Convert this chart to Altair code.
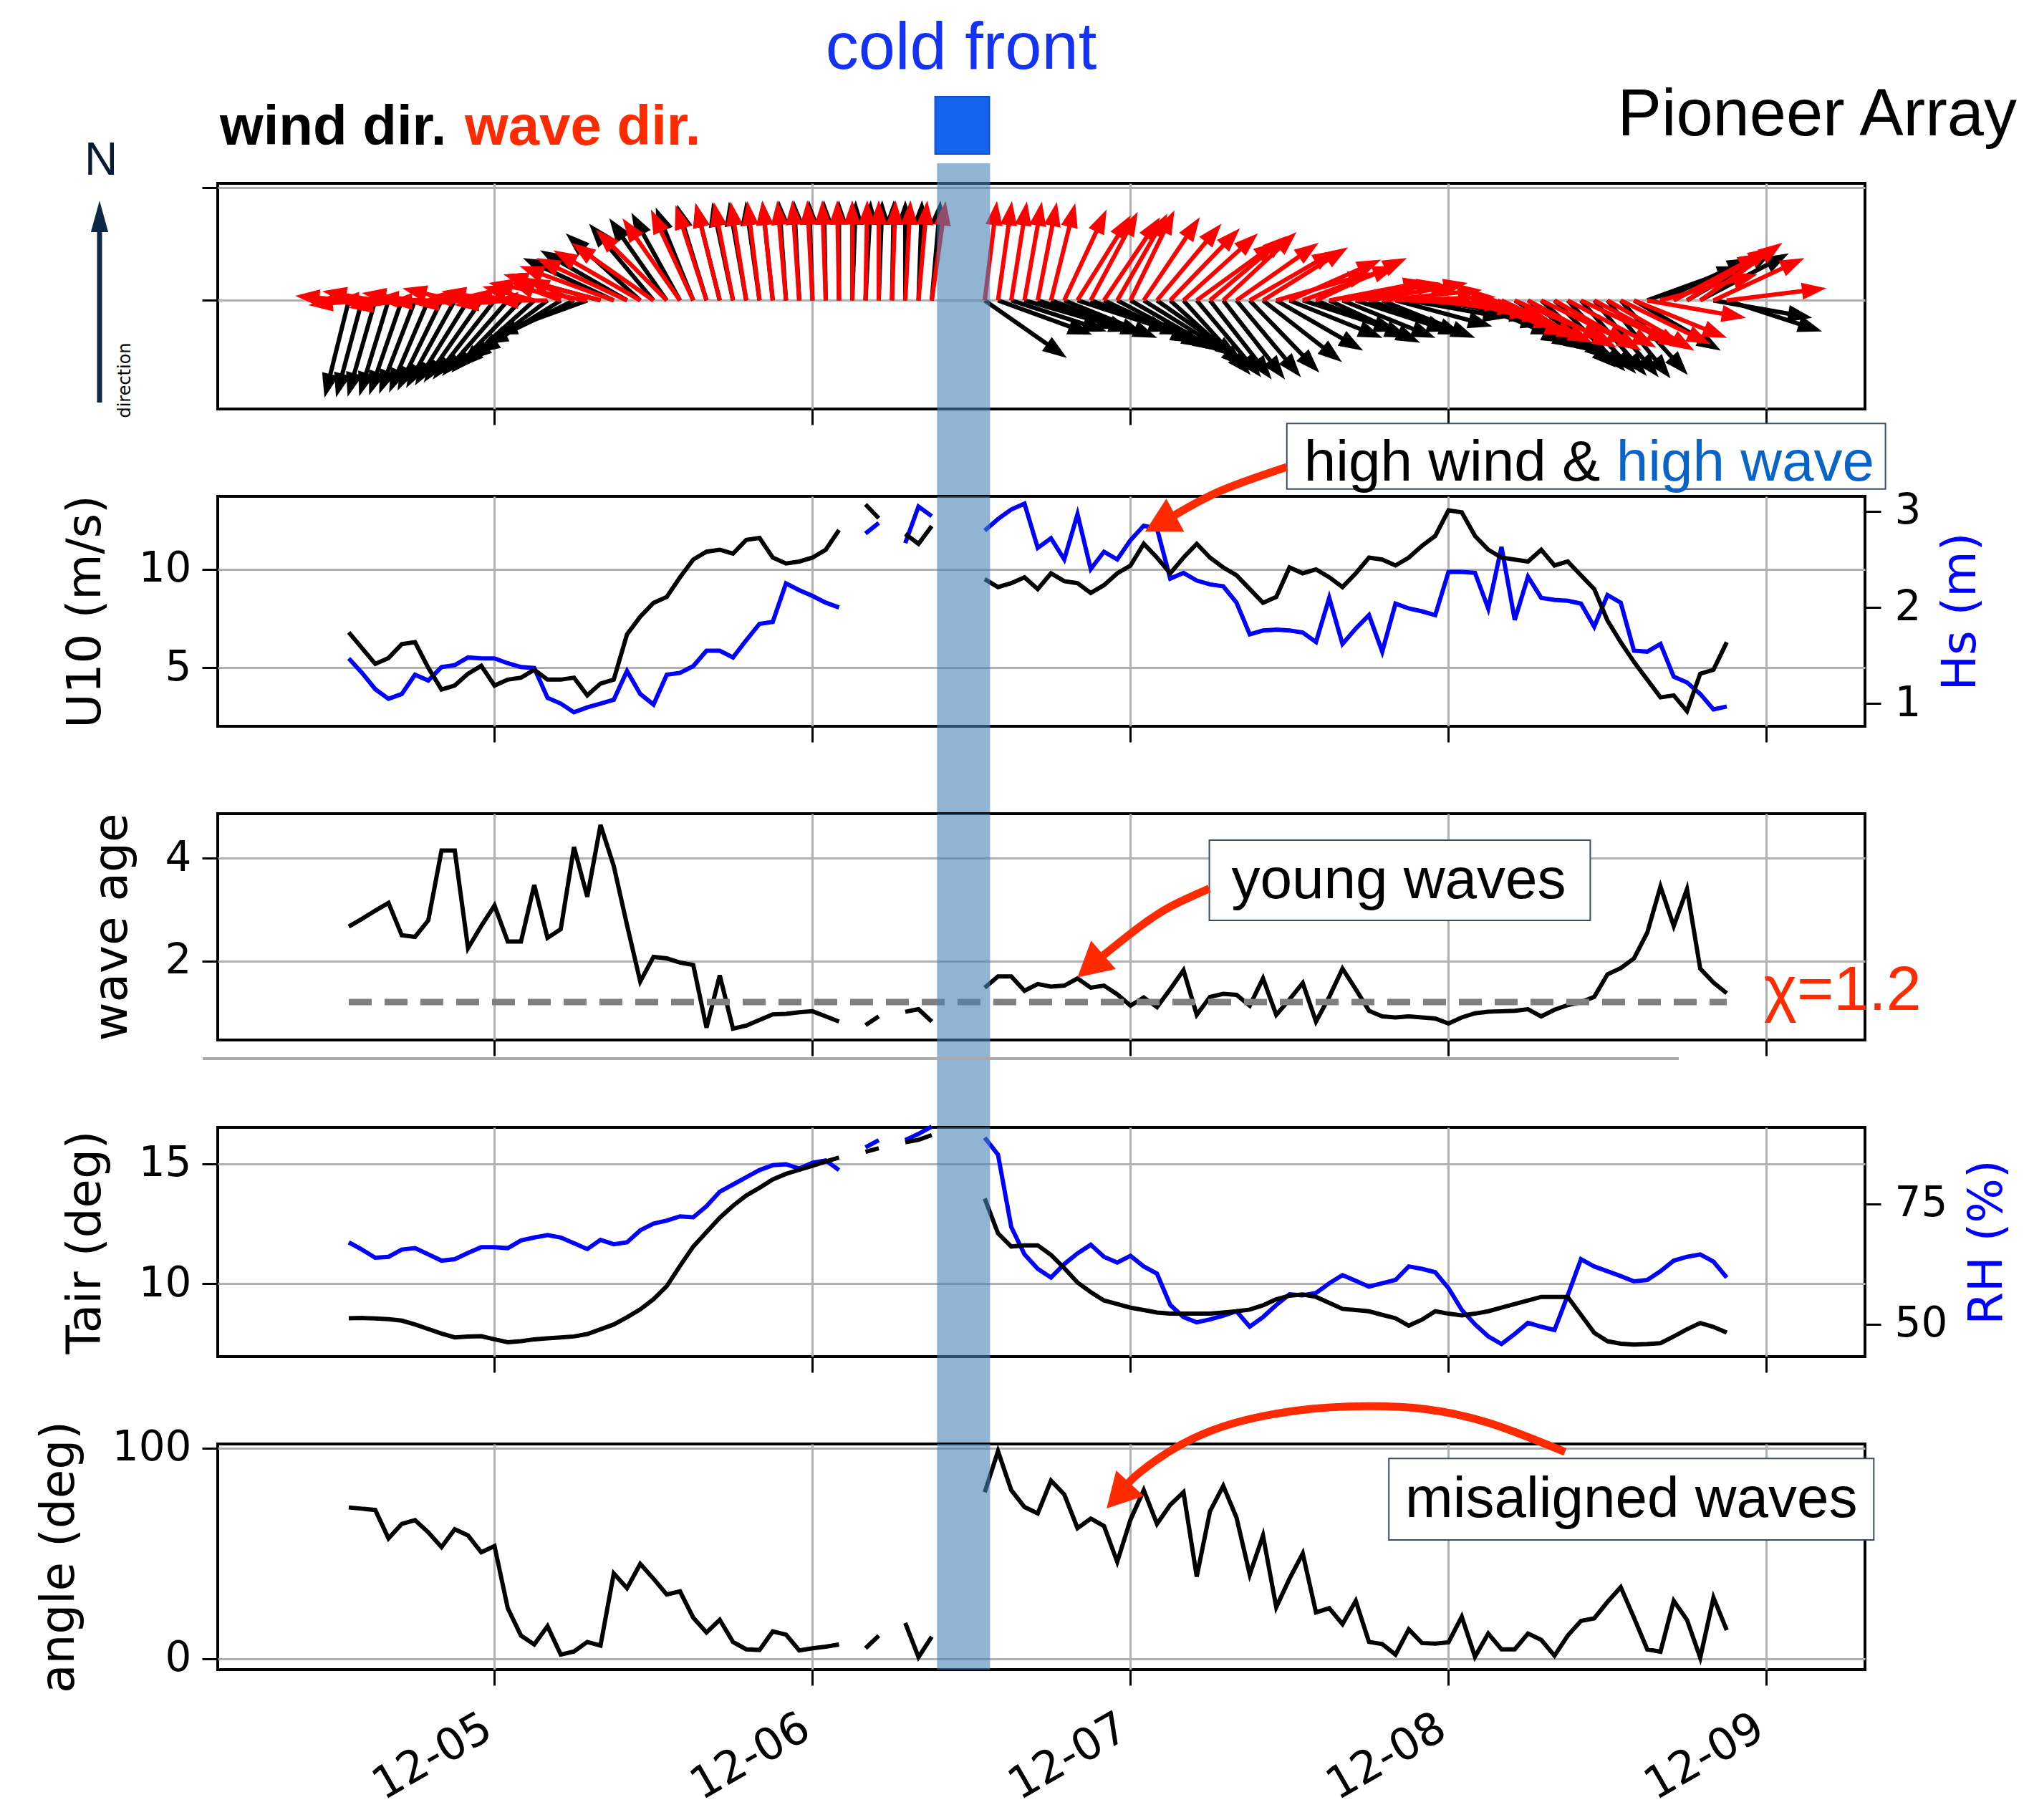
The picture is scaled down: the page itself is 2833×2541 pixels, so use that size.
import math
import altair as alt
import pandas as pd

# ---------------------------------------------------------------- data
# hourly samples, hours after 2023-12-04 00:00 (h=24 -> 12-05)
HOURS = list(range(13, 118))

U10 = [6.8, 6.0, 5.2, 5.5, 6.2, 6.3, 5.0, 3.9, 4.1, 4.7,
       5.1, 4.1, 4.4, 4.5, 4.9, 4.4, 4.4, 4.5, 3.6, 4.2,
       4.4, 6.7, 7.6, 8.3, 8.6, 9.6, 10.5, 10.9, 11.0, 10.8,
       11.5, 11.6, 10.6, 10.3, 10.4, 10.6, 11.0, 12.0, None, 13.3,
       12.6, None, 11.8, 11.3, 12.2, None, None, None, 9.5, 9.1,
       9.3, 9.6, 9.0, 9.8, 9.4, 9.3, 8.8, 9.2, 9.8, 10.2,
       11.3, 10.6, 9.8, 10.6, 11.3, 10.6, 10.1, 9.7, 9.0, 8.3,
       8.6, 10.1, 9.8, 10.0, 9.6, 9.1, 9.8, 10.6, 10.5, 10.2,
       10.6, 11.2, 11.7, 13.0, 12.9, 11.7, 11.0, 10.6, 10.5, 10.4,
       11.0, 10.2, 10.4, 9.7, 9.0, 7.4, 6.3, 5.3, 4.4, 3.5,
       3.6, 2.8, 4.7, 4.9, 6.3]

HS = [1.47, 1.32, 1.15, 1.05, 1.10, 1.30, 1.24, 1.38, 1.40, 1.48,
      1.47, 1.47, 1.42, 1.38, 1.37, 1.06, 1.00, 0.91, 0.96, 1.00,
      1.04, 1.34, 1.10, 0.99, 1.30, 1.32, 1.39, 1.55, 1.55, 1.48,
      1.66, 1.83, 1.85, 2.25, 2.18, 2.12, 2.05, 2.00, None, 2.77,
      2.88, None, 2.67, 3.05, 2.95, None, None, None, 2.80, 2.92,
      3.02, 3.08, 2.62, 2.72, 2.50, 2.97, 2.40, 2.58, 2.50, 2.70,
      2.85, 2.82, 2.30, 2.36, 2.28, 2.24, 2.22, 2.05, 1.72, 1.76,
      1.77, 1.76, 1.74, 1.64, 2.10, 1.62, 1.78, 1.92, 1.54, 2.04,
      1.99, 1.96, 1.92, 2.37, 2.37, 2.36, 1.99, 2.63, 1.87, 2.32,
      2.10, 2.08, 2.07, 2.04, 1.80, 2.13, 2.05, 1.55, 1.54, 1.62,
      1.28, 1.22, 1.10, 0.94, 0.97]

WAVE_AGE = [2.67, 2.82, 2.98, 3.13, 2.50, 2.47, 2.79, 4.15, 4.15, 2.25,
            2.68, 3.08, 2.38, 2.38, 3.48, 2.45, 2.62, 4.22, 3.25, 4.65,
            3.85, 2.70, 1.60, 2.08, 2.05, 1.97, 1.92, 0.70, 1.72, 0.68,
            0.74, 0.85, 0.96, 0.97, 1.00, 1.02, 0.92, 0.82, None, 0.75,
            0.92, None, 1.01, 1.06, 0.82, None, None, None, 1.48, 1.70,
            1.70, 1.42, 1.55, 1.50, 1.52, 1.66, 1.48, 1.52, 1.35, 1.13,
            1.29, 1.10, 1.45, 1.82, 0.95, 1.30, 1.36, 1.34, 1.13, 1.66,
            0.95, 1.25, 1.57, 0.82, 1.30, 1.85, 1.45, 1.03, 0.92, 0.90,
            0.92, 0.90, 0.88, 0.78, 0.90, 0.98, 1.01, 1.02, 1.03, 1.06,
            0.92, 1.05, 1.14, 1.20, 1.30, 1.74, 1.86, 2.05, 2.55, 3.45,
            2.68, 3.40, 1.85, 1.58, 1.37]

TAIR = [8.56, 8.57, 8.55, 8.52, 8.46, 8.30, 8.11, 7.92, 7.76, 7.80,
        7.81, 7.68, 7.56, 7.60, 7.68, 7.72, 7.76, 7.80, 7.90, 8.10,
        8.30, 8.60, 8.93, 9.35, 9.90, 10.74, 11.55, 12.15, 12.75, 13.25,
        13.68, 14.00, 14.35, 14.58, 14.75, 14.92, 15.10, 15.26, None, 15.50,
        15.65, None, 15.90, 16.00, 16.20, None, None, None, 13.55, 12.10,
        11.55, 11.60, 11.60, 11.20, 10.65, 10.05, 9.65, 9.30, 9.15, 9.00,
        8.90, 8.80, 8.75, 8.75, 8.75, 8.75, 8.80, 8.85, 8.92, 9.10,
        9.35, 9.50, 9.55, 9.45, 9.20, 8.95, 8.90, 8.85, 8.70, 8.56,
        8.25, 8.50, 8.85, 8.75, 8.68, 8.75, 8.85, 9.00, 9.15, 9.30,
        9.45, 9.45, 9.45, 8.70, 7.95, 7.60, 7.50, 7.46, 7.48, 7.52,
        7.80, 8.10, 8.36, 8.20, 7.96]

RH = [67.0, 65.5, 63.8, 64.0, 65.5, 65.8, 64.5, 63.2, 63.5, 64.8,
      66.0, 66.0, 65.8, 67.4, 68.0, 68.5, 68.0, 66.8, 65.6, 67.5,
      66.6, 67.0, 69.5, 70.9, 71.5, 72.4, 72.2, 74.5, 77.5, 79.0,
      80.5, 82.0, 83.0, 83.2, 82.3, 83.5, 84.0, 82.0, None, 86.7,
      88.2, None, 88.2, 89.5, 91.0, None, None, None, 88.7, 85.2,
      70.2, 64.5, 61.5, 59.7, 62.5, 64.7, 66.5, 64.0, 62.8, 64.2,
      62.0, 60.5, 54.0, 51.5, 50.4, 51.0, 51.8, 52.7, 49.5, 51.5,
      54.0, 56.2, 56.0, 56.5, 58.5, 60.2, 59.0, 57.8, 58.5, 59.2,
      62.0, 61.5, 60.8, 57.5, 53.0, 50.0, 47.5, 45.9, 48.0, 50.3,
      49.5, 48.8, 56.0, 63.5, 62.0, 61.0, 60.0, 58.9, 59.2, 61.0,
      63.2, 64.0, 64.5, 63.0, 59.7]

ANGLE = [71.8, 71.2, 70.6, 57.1, 64.0, 65.8, 60.0, 53.0, 61.5, 58.5,
         50.5, 53.5, 24.0, 11.0, 6.8, 15.5, 2.0, 3.5, 8.0, 6.3,
         40.5, 33.5, 45.0, 38.0, 30.5, 32.0, 19.5, 12.5, 18.5, 8.0,
         4.5, 4.2, 13.0, 11.5, 4.0, 5.0, 5.8, 6.8, None, 5.0,
         11.0, None, 17.0, 0.8, 10.5, None, None, None, 79.0, 98.5,
         80.0, 72.0, 69.0, 84.5, 78.0, 62.0, 66.5, 63.0, 46.0, 66.0,
         80.0, 64.0, 73.0, 79.0, 39.0, 70.0, 82.0, 67.0, 40.0, 58.5,
         24.5, 38.0, 50.0, 22.0, 24.0, 16.5, 27.5, 8.0, 7.0, 2.0,
         14.0, 7.5, 7.2, 7.8, 20.0, 1.0, 12.0, 4.5, 4.5, 12.0,
         9.0, 1.5, 11.0, 18.0, 19.2, 27.0, 34.0, 19.5, 4.5, 3.4,
         27.5, 18.5, 0.5, 29.0, 13.6]

# arrow directions on the page, degrees clockwise from north (up)
WIND_DIR = [194, 195, 196, 197, 199, 201, 203, 206, 209, 212,
            215, 218, 221, 224, 228, 233, 238, 244, 250, 285,
            295, 300, 312, 320, 325, 331, 338, 343, 346, 348,
            350, 352, 354, 356, 357, 358, 359, 0, 2, 3,
            2, 1, 0, 2, 5, None, None, None, 125, 110,
            108, 106, 108, 110, 112, 108, 110, 115, 118, 120,
            122, 125, 132, 138, 140, 142, 142, 140, 136, 128,
            120, 112, 108, 112, 115, 112, 108, 110, 112, 105,
            100, 97, 100, 105, 110, 115, 118, 120, 122, 126,
            132, 135, 137, 139, 140, 141, 138, 120, 70, 65,
            62, 60, 62, 100, 108]

WAVE_DIR = [275, 265, 280, 270, 262, 278, 272, 268, 283, 266,
            274, 280, 265, 276, 285, 270, 290, 295, 280, 285,
            290, 295, 300, 305, 315, 325, 335, 342, 346, 349,
            351, 353, 354, 355, 356, 357, 358, 359, 0, 1,
            0, 2, 3, 5, 8, None, None, None, 7, 8,
            9, 10, 11, 14, 25, 32, 28, 34, 30, 26,
            34, 40, 44, 48, 54, 50, 47, 55, 60, 58,
            74, 66, 70, 65, 79, 80, 82, 80, 84, 88,
            92, 95, 98, 100, 105, 110, 112, 115, 113, 118,
            116, 120, 118, 115, 118, 120, 116, 112, 100, 75,
            62, 58, 55, 65, 83]

CHI = 1.2
FRONT = [57.4, 61.4]            # cold-front passage (hours)
X_TICKS = [24, 48, 72, 96, 120]

# ---------------------------------------------------------------- layout
W = 2300
H = [315, 321, 316, 320, 315]
GAP = 122
XMIN = 3.11
XMAX = XMIN + W / 18.5
PXH = W / (XMAX - XMIN)

Y1 = (-0.96, 1.035)
YU = (2.03, 13.71)
YHS = (0.764, 3.156)
YWA = (0.46, 4.87)
YT = (6.96, 16.52)
YRH = (43.3, 90.85)
YANG = (-5.1, 101.9)

ANN_FONT = "Liberation Sans, Arial, Helvetica, sans-serif"
RED = "#ff2a00"
BLUE = "#0000ff"
LW = 6
ONE = pd.DataFrame({"k": [0]})

XS = alt.Scale(domain=[XMIN, XMAX], nice=False, zero=False)

XA = alt.Axis(values=X_TICKS, grid=True, title=None, labels=False)
XA_LAB = alt.Axis(values=X_TICKS, grid=True, title=None, labels=True,
                  labelExpr="'12-0' + (4 + datum.value / 24)",
                  labelAngle=330, labelAlign="right", labelBaseline="top",
                  labelFontSize=62, labelPadding=28, labelOffset=-24, labelLimit=500)

A1 = alt.Axis(values=[0, 1], labels=False, grid=True, title=None)
AU = alt.Axis(values=[5, 10], title="U10 (m/s)", grid=True, orient="left")
AHS = alt.Axis(values=[1, 2, 3], title="Hs (m)", orient="right", grid=False,
               titleColor=BLUE, titleAngle=270, titleBaseline="top", titlePadding=24,
               labelPadding=19)
AWA = alt.Axis(values=[2, 4], title="wave age", grid=True, orient="left")
AT = alt.Axis(values=[10, 15], title="Tair (deg)", grid=True, orient="left")
ARH = alt.Axis(values=[50, 75], title="RH (%)", orient="right", grid=False,
               titleColor=BLUE, titleAngle=270, titleBaseline="top", titlePadding=24,
               labelPadding=19)
AANG = alt.Axis(values=[0, 100], title="angle (deg)", grid=True, orient="left")


def ysc(dom):
    return alt.Scale(domain=list(dom), nice=False, zero=False)


def seg_df(values):
    rows, seg, gap = [], 0, True
    for h, v in zip(HOURS, values):
        if v is None:
            gap = True
            continue
        if gap:
            seg += 1
            gap = False
        rows.append({"h": h, "v": v, "seg": seg})
    return pd.DataFrame(rows)


def line(values, dom, color, ya, xa):
    return alt.Chart(seg_df(values)).mark_line(color=color, strokeWidth=LW).encode(
        x=alt.X("h:Q", scale=XS, axis=xa),
        y=alt.Y("v:Q", scale=ysc(dom), axis=ya),
        detail="seg:N")


def band(top, bottom, xa):
    df = pd.DataFrame({"a": [FRONT[0]], "b": [FRONT[1]]})
    return alt.Chart(df).mark_rect(color="steelblue", opacity=0.6).encode(
        x=alt.X("a:Q", scale=XS, axis=xa), x2="b:Q",
        y=alt.value(top), y2=alt.value(bottom))


def text_px(txt, x, y, size, color="black", weight="normal", align="left",
            baseline="alphabetic", font=ANN_FONT, angle=0, dx=0):
    return alt.Chart(ONE).mark_text(
        text=txt, font=font, fontSize=size, fontWeight=weight, color=color,
        align=align, baseline=baseline, angle=angle, dx=dx).encode(
        x=alt.value(x), y=alt.value(y))


def text_data(txt, h, v, dom, size, xa, ya, color="black", align="left",
              baseline="alphabetic", dx=0):
    df = pd.DataFrame({"h": [h], "v": [v]})
    return alt.Chart(df).mark_text(
        text=txt, font=ANN_FONT, fontSize=size, color=color, align=align,
        baseline=baseline, dx=dx).encode(
        x=alt.X("h:Q", scale=XS, axis=xa),
        y=alt.Y("v:Q", scale=ysc(dom), axis=ya))


def box_data(h0, h1, v0, v1, dom, xa, ya):
    df = pd.DataFrame({"h0": [h0], "h1": [h1], "v0": [v0], "v1": [v1]})
    return alt.Chart(df).mark_rect(fill="white", stroke="#3b4a6b", strokeWidth=2).encode(
        x=alt.X("h0:Q", scale=XS, axis=xa), x2="h1:Q",
        y=alt.Y("v0:Q", scale=ysc(dom), axis=ya), y2="v1:Q")


BIG_HEAD = "M0,0L-1.1,2L1.1,2Z"
SMALL_HEAD = "M0,0L-0.7,2L0.7,2Z"
N_HEAD = "M0,0L-0.55,2L0.55,2Z"


def curved_arrow(pts, dom, height, xa, ya, color=RED, sw=11, hl=48):
    ymin, ymax = dom
    pyu = height / (ymax - ymin)

    def to_px(h, v):
        return ((h - XMIN) * PXH, (ymax - v) * pyu)

    def to_data(px, py):
        return (px / PXH + XMIN, ymax - py / pyu)

    x1, y1 = to_px(*pts[-2])
    x2, y2 = to_px(*pts[-1])
    dx, dy = x2 - x1, y2 - y1
    n = math.hypot(dx, dy)
    ux, uy = dx / n, dy / n
    ang = math.degrees(math.atan2(ux, -uy)) % 360
    ex, ey = x2 - ux * hl * 0.75, y2 - uy * hl * 0.75
    body = list(pts[:-1])
    if math.hypot(ex - x1, ey - y1) < 25 and len(body) > 2:
        body = body[:-1]
    body.append(to_data(ex, ey))
    df = pd.DataFrame({"h": [p[0] for p in body], "v": [p[1] for p in body],
                       "i": list(range(len(body)))})
    shaft = alt.Chart(df).mark_line(color=color, strokeWidth=sw, interpolate="natural",
                                    strokeCap="butt").encode(
        x=alt.X("h:Q", scale=XS, axis=xa),
        y=alt.Y("v:Q", scale=ysc(dom), axis=ya), order="i:Q")
    hdf = pd.DataFrame({"h": [pts[-1][0]], "v": [pts[-1][1]], "a": [ang]})
    head = alt.Chart(hdf).mark_point(shape=BIG_HEAD, filled=True, size=hl * hl,
                                     color=color, opacity=1, strokeWidth=0).encode(
        x=alt.X("h:Q", scale=XS, axis=xa),
        y=alt.Y("v:Q", scale=ysc(dom), axis=ya),
        angle=alt.Angle("a:Q", scale=None))
    return [shaft, head]


# ---------------------------------------------------------------- panel 1: arrows
PY1 = H[0] / (Y1[1] - Y1[0])
HEAD1 = 34


def arrow_frame(dirs, short_until, short_len, long_len):
    rows = []
    for h, d in zip(HOURS, dirs):
        if d is None:
            continue
        L = short_len if h <= short_until else long_len
        r = math.radians(d)
        ux, uy = math.sin(r), math.cos(r)
        s = L - HEAD1 * 0.6
        rows.append(dict(h=h, y0=0.0, xs=h + s * ux / PXH, ys=s * uy / PY1,
                         xt=h + L * ux / PXH, yt=L * uy / PY1, ang=d % 360))
    return pd.DataFrame(rows)


def quiver(df, color):
    shaft = alt.Chart(df).mark_rule(color=color, strokeWidth=6).encode(
        x=alt.X("h:Q", scale=XS, axis=XA),
        y=alt.Y("y0:Q", scale=ysc(Y1), axis=A1),
        x2="xs:Q", y2="ys:Q")
    head = alt.Chart(df).mark_point(shape=SMALL_HEAD, filled=True, size=HEAD1 * HEAD1,
                                    color=color, opacity=1, strokeWidth=0).encode(
        x=alt.X("xt:Q", scale=XS, axis=XA),
        y=alt.Y("yt:Q", scale=ysc(Y1), axis=A1),
        angle=alt.Angle("ang:Q", scale=None))
    return [shaft, head]


wind_df = arrow_frame(WIND_DIR, 0, 140, 140)
wave_df = arrow_frame(WAVE_DIR, 30, 75, 140)

front_box = alt.Chart(pd.DataFrame({"a": [FRONT[0] - 0.15], "b": [FRONT[1] - 0.05]})).mark_rect(
    color="#1464f0", stroke="#0b4fc4", strokeWidth=2).encode(
    x=alt.X("a:Q", scale=XS, axis=XA), x2="b:Q", y=alt.value(-121), y2=alt.value(-41))

north_shaft = alt.Chart(ONE).mark_rule(color="#0d2847", strokeWidth=7).encode(
    x=alt.value(-165), y=alt.value(306), y2=alt.value(55))
north_head = alt.Chart(ONE).mark_point(shape=N_HEAD, filled=True, size=44 * 44,
                                       color="#0d2847", opacity=1, strokeWidth=0).encode(
    x=alt.value(-165), y=alt.value(24))

p1 = alt.layer(
    *quiver(wind_df, "black"),
    *quiver(wave_df, "#ff0000"),
    band(-28, H[0] + GAP, XA),
    front_box,
    text_px("cold front", 1038, -160, 92, color="#1432f5", align="center"),
    text_px("Pioneer Array", 2512, -67, 92, align="right"),
    text_px("wind dir.", 3, -54, 78, weight="bold"),
    text_px("wave dir.", 3, -54, 78, color=RED, weight="bold", dx=342),
    text_px("N", -163, -31, 64, color="#0a1a33", align="center", baseline="middle"),
    north_shaft, north_head,
    text_px("direction", -129, 275, 24, align="center", baseline="middle",
            font="DejaVu Sans", angle=270),
).properties(width=W, height=H[0])

# ---------------------------------------------------------------- panel 2: U10 / Hs
hs_line = line(HS, YHS, BLUE, AHS, XA)
p2_left = alt.layer(
    line(U10, YU, "black", AU, XA),
    band(0, H[1] + GAP, XA),
    box_data(83.8, 128.98, 14.08, 17.41, YU, XA, AU),
    text_data("high wind & ", 85.1, 14.5, YU, 80, XA, AU),
    text_data("high wave", 85.1, 14.5, YU, 80, XA, AU, color="#0a64c8", dx=436),
    *curved_arrow([(83.8, 15.2), (78.7, 13.96), (73.1, 11.92)], YU, H[1], XA, AU),
)
p2 = alt.layer(hs_line, p2_left).resolve_scale(y="independent").properties(width=W, height=H[1])

# ---------------------------------------------------------------- panel 3: wave age
chi_df = pd.DataFrame({"h0": [HOURS[0]], "h1": [HOURS[-1]], "v": [CHI]})
chi_rule = alt.Chart(chi_df).mark_rule(color="#808080", strokeWidth=9, strokeDash=[32, 18]).encode(
    x=alt.X("h0:Q", scale=XS, axis=XA), x2="h1:Q",
    y=alt.Y("v:Q", scale=ysc(YWA), axis=AWA))
sep_rule = alt.Chart(ONE).mark_rule(color="#aaaaaa", strokeWidth=4).encode(
    x=alt.value(-21), x2=alt.value(2040), y=alt.value(342))

p3 = alt.layer(
    line(WAVE_AGE, YWA, "black", AWA, XA),
    chi_rule,
    band(0, H[2] + GAP, XA),
    box_data(77.95, 106.7, 2.79, 4.355, YWA, XA, AWA),
    text_data("young waves", 92.24, 3.227, YWA, 80, XA, AWA, align="center"),
    *curved_arrow([(77.95, 3.41), (75.1, 3.07), (72.6, 2.65), (70.05, 2.14), (68.0, 1.68)],
                  YWA, H[2], XA, AWA),
    text_data("\u03c7=1.2", 119.8, 1.04, YWA, 88, XA, AWA, color=RED),
    sep_rule,
).properties(width=W, height=H[2])

# ---------------------------------------------------------------- panel 4: Tair / RH
rh_line = line(RH, YRH, BLUE, ARH, XA)
p4_left = alt.layer(line(TAIR, YT, "black", AT, XA), band(0, H[3] + GAP, XA))
p4 = alt.layer(rh_line, p4_left).resolve_scale(y="independent").properties(width=W, height=H[3])

# ---------------------------------------------------------------- panel 5: angle
arc = [(104.8, 98.1), (99.2, 111.6), (94.3, 118.4), (89.9, 119.8), (84.5, 117.7),
       (77.7, 107.2), (72.8, 88.9), (70.2, 71.3)]
p5 = alt.layer(
    line(ANGLE, YANG, "black", AANG, XA_LAB),
    band(0, H[4], XA_LAB),
    box_data(91.5, 128.1, 56.4, 95.0, YANG, XA_LAB, AANG),
    text_data("misaligned waves", 109.8, 67.2, YANG, 80, XA_LAB, AANG, align="center"),
    *curved_arrow(arc, YANG, H[4], XA_LAB, AANG),
).properties(width=W, height=H[4])

chart = alt.vconcat(p1, p2, p3, p4, p5, spacing=GAP, bounds="flush").properties(
    padding={"left": 39, "top": 12, "right": 5, "bottom": 5}, background="white"
).configure_view(stroke="black", strokeWidth=4).configure_axis(
    labelFont="DejaVu Sans", labelFontSize=58, labelColor="black", labelFontWeight="normal",
    titleFont="DejaVu Sans", titleFontSize=66, titleFontWeight="normal", titleColor="black",
    tickColor="black", tickWidth=3, tickSize=22, labelPadding=15, titlePadding=40,
    gridColor="#b0b0b0", gridWidth=3, gridOpacity=1, domain=False, labelFlush=False)

chart.save("out.html", embed_options={"renderer": "svg", "actions": False})
